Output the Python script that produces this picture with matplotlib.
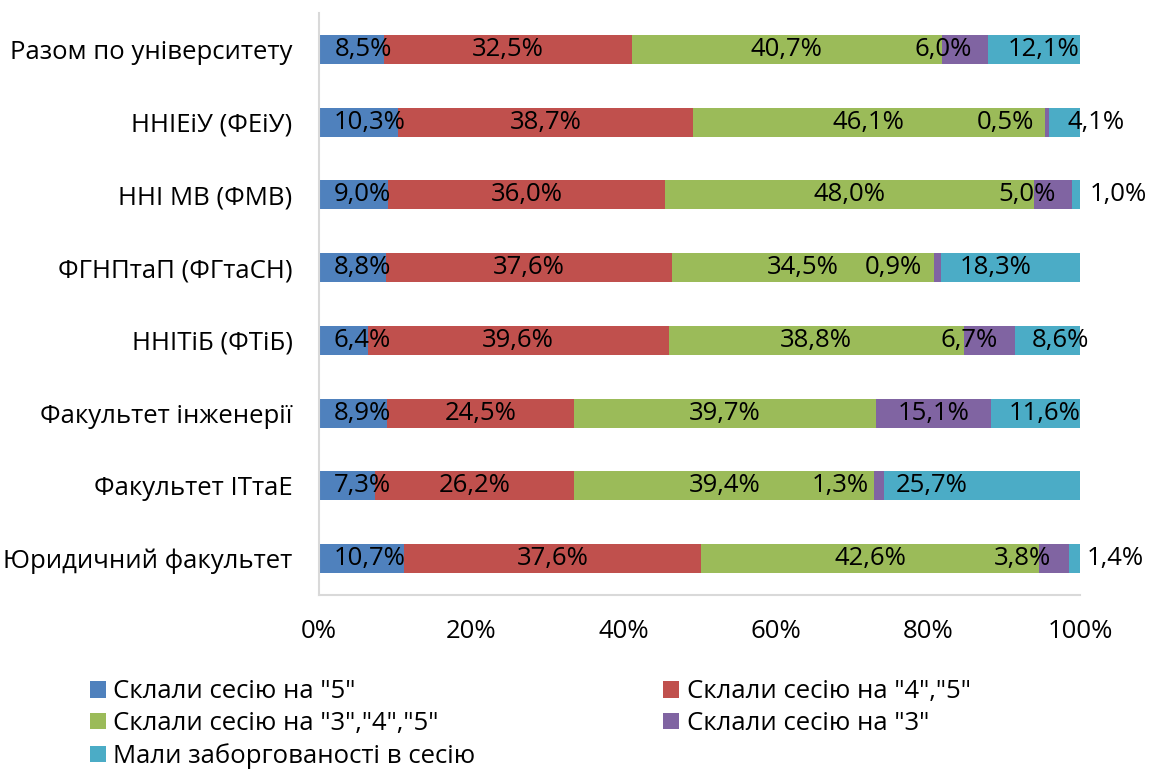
import numpy as np
import matplotlib
matplotlib.use("Agg")
import matplotlib.pyplot as plt

plt.rcParams['font.family'] = ['Open Sans', 'DejaVu Sans']

# категорії (зверху вниз)
categories = [
    "Разом по університету",
    "ННІЕіУ (ФЕіУ)",
    "ННІ МВ (ФМВ)",
    "ФГНПтаП (ФГтаСН)",
    "ННІТіБ (ФТіБ)",
    "Факультет інженерії",
    "Факультет ІТтаЕ",
    "Юридичний факультет",
]

series_names = [
    'Склали сесію на "5"',
    'Склали сесію на "4","5"',
    'Склали сесію на "3","4","5"',
    'Склали сесію на "3"',
    'Мали заборгованості в сесію',
]

on_5 = [8.5, 10.3, 9.0, 8.8, 6.4, 8.9, 7.3, 10.7]
on_45 = [32.5, 38.7, 36.0, 37.6, 39.6, 24.5, 26.2, 37.6]
on_345 = [40.7, 46.1, 48.0, 34.5, 38.8, 39.7, 39.4, 42.6]
on_3 = [6.0, 0.5, 5.0, 0.9, 6.7, 15.1, 1.3, 3.8]
debts = [12.1, 4.1, 1.0, 18.3, 8.6, 11.6, 25.7, 1.4]

colors = ['#4F81BD', '#C0504D', '#9BBB59', '#8064A2', '#4BACC6']

# зсув підписів (у пікселях) відносно центру сегмента
label_dx = [
    [12, 0, 0, -22, 10],
    [11, 0, 0, -41, 32],
    [9, 0, 0, -26, 42],
    [10, 0, 0, -44, -15],
    [19, 0, 0, -20, 13],
    [9, 0, 0, 0, 9],
    [16, 0, 0, -39, -50],
    [8, 0, 0, -31, 41],
]

FS = 18.5

values = np.array([on_5, on_45, on_345, on_3, debts])
shares = values / values.sum(axis=0) * 100  # 100% stacked
y = np.arange(len(categories))

fig = plt.figure(figsize=(11.49, 7.71), dpi=100)
ax = fig.add_axes([0.2776, 0.2283, 0.9399 - 0.2776, 0.9831 - 0.2283])

left = np.zeros(len(categories))
bars = []
for i, name in enumerate(series_names):
    b = ax.barh(y, shares[i], left=left, height=0.40, color=colors[i], label=name)
    bars.append(b)
    for j in range(len(categories)):
        cx = left[j] + shares[i][j] / 2
        txt = f"{values[i][j]:.1f}%".replace('.', ',')
        ax.annotate(txt, (cx, y[j]), xytext=(label_dx[j][i], 0),
                    textcoords='offset pixels', ha='center', va='center',
                    fontsize=FS, color='black')
    left += shares[i]

ax.set_xlim(0, 100)
ax.set_ylim(7.5, -0.5)
ax.set_yticks(y)
ax.set_yticklabels(categories, fontsize=FS)
ax.set_xticks([0, 20, 40, 60, 80, 100])
ax.set_xticklabels([f"{t}%" for t in [0, 20, 40, 60, 80, 100]], fontsize=FS)
ax.tick_params(axis='y', length=0, pad=19)
ax.tick_params(axis='x', length=0, pad=17)

for s in ['top', 'right']:
    ax.spines[s].set_visible(False)
for s in ['left', 'bottom']:
    ax.spines[s].set_color('#D9D9D9')
    ax.spines[s].set_linewidth(1.5)

# легенда заповнюється по рядках, як в оригіналі
order = [0, 2, 4, 1, 3]
fig.legend([bars[k] for k in order], [series_names[k] for k in order],
           loc='upper left', bbox_to_anchor=(0.078, 0.119), ncol=2,
           frameon=False, fontsize=FS, handlelength=0.62, handleheight=0.62,
           handletextpad=0.3, columnspacing=7.3, labelspacing=0.27,
           borderaxespad=0, borderpad=0)

fig.savefig("out.png", dpi=100)
